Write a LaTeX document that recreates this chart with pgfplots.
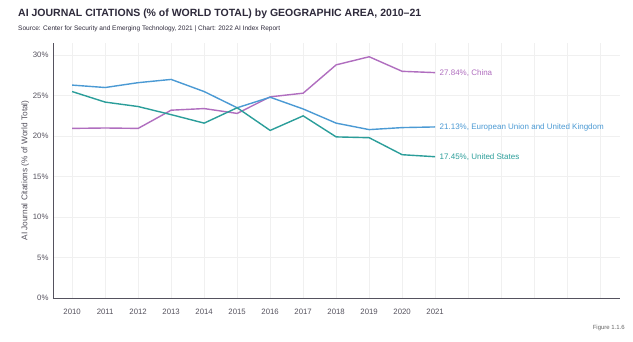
\documentclass[border=0pt]{standalone}
\usepackage{pgfplots}
\pgfplotsset{compat=1.18}
\usepackage{fontspec}
\setmainfont{Liberation Sans}
\definecolor{cchina}{HTML}{B06EBF}
\definecolor{ceu}{HTML}{4B9AD4}
\definecolor{cus}{HTML}{2B9E9A}
\definecolor{ctitle}{HTML}{2E2A3B}
\definecolor{ctick}{HTML}{55525E}
\begin{document}
\begin{tikzpicture}[x=1pt,y=1pt]
\useasboundingbox[fill=white] (0,0) rectangle (633,342);
\node[anchor=west,inner sep=0,text=ctitle] at (18,328) {\resizebox{403pt}{!}{\bfseries AI JOURNAL CITATIONS (\% of WORLD TOTAL) by GEOGRAPHIC AREA, 2010–21}};
\node[anchor=west,inner sep=0,text=ctitle] at (18,313.5) {\resizebox{262pt}{!}{Source: Center for Security and Emerging Technology, 2021 | Chart: 2022 AI Index Report}};
\begin{axis}[
  at={(53pt,44pt)}, anchor=south west,
  scale only axis, width=567pt, height=255pt,
  xmin=2009.42, xmax=2026.6, ymin=0, ymax=31.5,
  axis lines*=left,
  axis line style={ctick, line width=0.9pt, -},
  xtick={2010,...,2026},
  xticklabels={2010,2011,2012,2013,2014,2015,2016,2017,2018,2019,2020,2021,,,,,},
  ytick={0,5,10,15,20,25,30},
  yticklabels={0\%,5\%,10\%,15\%,20\%,25\%,30\%},
  tick style={draw=none},
  grid=major, major grid style={draw=black!6, line width=0.6pt},
  ticklabel style={font=\fontsize{7.8}{8}\selectfont, text=ctick},
  /pgf/number format/assume math mode=true,
  xticklabel style={yshift=-8pt},
  yticklabel style={xshift=-1pt},
  ylabel={AI Journal Citations (\% of World Total)},
  ylabel style={font=\fontsize{8.3}{9}\selectfont, text=ctick, at={(axis description cs:-0.049,0.5)}, anchor=center},
  clip=false,
]
\addplot[cchina, line width=1.4pt] coordinates {
(2010,20.95) (2011,21.0) (2012,20.95) (2013,23.2) (2014,23.4) (2015,22.8) (2016,24.85) (2017,25.3) (2018,28.8) (2019,29.8) (2020,28.0) (2021,27.84)};
\addplot[ceu, line width=1.4pt] coordinates {
(2010,26.3) (2011,26.0) (2012,26.6) (2013,27.0) (2014,25.5) (2015,23.5) (2016,24.8) (2017,23.35) (2018,21.6) (2019,20.8) (2020,21.05) (2021,21.13)};
\addplot[cus, line width=1.4pt] coordinates {
(2010,25.5) (2011,24.2) (2012,23.65) (2013,22.65) (2014,21.6) (2015,23.5) (2016,20.7) (2017,22.5) (2018,19.9) (2019,19.8) (2020,17.7) (2021,17.45)};
\node[anchor=west, text=cchina, font=\fontsize{8}{9}\selectfont] at (axis cs:2021,27.84) {\hspace{1pt}27.84\%, China};
\node[anchor=west, text=ceu, font=\fontsize{8}{9}\selectfont] at (axis cs:2021,21.13) {\hspace{1pt}21.13\%, European Union and United Kingdom};
\node[anchor=west, text=cus, font=\fontsize{8}{9}\selectfont] at (axis cs:2021,17.45) {\hspace{1pt}17.45\%, United States};
\end{axis}
\node[anchor=east,inner sep=0,text=black!60,font=\fontsize{6}{7}\selectfont] at (625,14) {Figure 1.1.6};
\end{tikzpicture}
\end{document}
